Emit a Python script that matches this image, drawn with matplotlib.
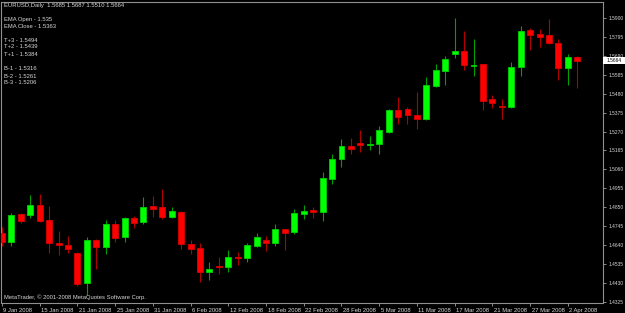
import matplotlib
matplotlib.use("Agg")
import matplotlib.pyplot as plt
import matplotlib.transforms as mtransforms
from matplotlib.patches import Rectangle

plt.rcParams['font.family'] = ['Liberation Sans Narrow', 'Liberation Sans', 'DejaVu Sans']

# EURUSD daily bars, 9 Jan 2008 .. 3 Apr 2008 (62 trading days)
opens = [1.4708, 1.4658, 1.4812, 1.4804, 1.4862, 1.4778, 1.4649, 1.4640, 1.4593, 1.4427,
         1.4669, 1.4630, 1.4754, 1.4686, 1.4788, 1.4766, 1.4856, 1.4849, 1.4793, 1.4823,
         1.4645, 1.4623, 1.4492, 1.4523, 1.4516, 1.4575, 1.4569, 1.4636, 1.4669, 1.4649,
         1.4728, 1.4712, 1.4813, 1.4836, 1.4823, 1.5006, 1.5115, 1.5191, 1.5206, 1.5195,
         1.5199, 1.5269, 1.5389, 1.5396, 1.5361, 1.5339, 1.5524, 1.5607, 1.5700, 1.5717,
         1.5636, 1.5645, 1.5450, 1.5411, 1.5404, 1.5626, 1.5833, 1.5811, 1.5804, 1.5761,
         1.5621, 1.5685]
highs = [1.4739, 1.4816, 1.4816, 1.4917, 1.4923, 1.4856, 1.4717, 1.4690, 1.4601, 1.4682,
         1.4671, 1.4778, 1.4778, 1.4797, 1.4801, 1.4904, 1.4912, 1.4950, 1.4849, 1.4828,
         1.4667, 1.4649, 1.4543, 1.4575, 1.4613, 1.4601, 1.4649, 1.4708, 1.4691, 1.4756,
         1.4730, 1.4838, 1.4860, 1.4849, 1.5045, 1.5143, 1.5228, 1.5235, 1.5276, 1.5246,
         1.5302, 1.5395, 1.5463, 1.5404, 1.5491, 1.5574, 1.5645, 1.5687, 1.5903, 1.5830,
         1.5783, 1.5647, 1.5472, 1.5452, 1.5657, 1.5856, 1.5843, 1.5837, 1.5894, 1.5783,
         1.5700, 1.5687]
lows = [1.4634, 1.4634, 1.4760, 1.4791, 1.4770, 1.4593, 1.4584, 1.4597, 1.4413, 1.4362,
        1.4505, 1.4588, 1.4658, 1.4658, 1.4732, 1.4754, 1.4797, 1.4782, 1.4790, 1.4617,
        1.4588, 1.4436, 1.4445, 1.4478, 1.4491, 1.4528, 1.4543, 1.4628, 1.4606, 1.4636,
        1.4612, 1.4699, 1.4786, 1.4789, 1.4774, 1.4978, 1.5071, 1.5143, 1.5158, 1.5167,
        1.5143, 1.5263, 1.5310, 1.5310, 1.5282, 1.5334, 1.5519, 1.5530, 1.5681, 1.5611,
        1.5578, 1.5389, 1.5402, 1.5339, 1.5403, 1.5580, 1.5722, 1.5739, 1.5758, 1.5557,
        1.5528, 1.5510]
closes = [1.4658, 1.4806, 1.4771, 1.4862, 1.4773, 1.4649, 1.4640, 1.4617, 1.4423, 1.4669,
          1.4627, 1.4754, 1.4678, 1.4788, 1.4763, 1.4852, 1.4841, 1.4797, 1.4827, 1.4645,
          1.4617, 1.4491, 1.4505, 1.4516, 1.4573, 1.4569, 1.4640, 1.4684, 1.4649, 1.4728,
          1.4708, 1.4819, 1.4828, 1.4823, 1.5010, 1.5115, 1.5191, 1.5174, 1.5195, 1.5200,
          1.5276, 1.5389, 1.5352, 1.5363, 1.5339, 1.5528, 1.5610, 1.5672, 1.5717, 1.5637,
          1.5639, 1.5441, 1.5426, 1.5404, 1.5630, 1.5830, 1.5807, 1.5793, 1.5760, 1.5621,
          1.5685, 1.5664]

date_labels = ["9 Jan 2008", "15 Jan 2008", "21 Jan 2008", "25 Jan 2008", "31 Jan 2008",
               "6 Feb 2008", "12 Feb 2008", "18 Feb 2008", "22 Feb 2008", "28 Feb 2008",
               "5 Mar 2008", "11 Mar 2008", "17 Mar 2008", "21 Mar 2008", "27 Mar 2008",
               "2 Apr 2008"]
price_ticks = [1.5900, 1.5795, 1.5690, 1.5585, 1.5480, 1.5375, 1.5270, 1.5165, 1.5060,
               1.4955, 1.4850, 1.4745, 1.4640, 1.4535, 1.4430, 1.4325]

symbol = "EURUSD,Daily"
ema_lines = ["EMA Open - 1.535", "EMA Close - 1.5363"]
top_lines = ["T+3 - 1.5494", "T+2 - 1.5439", "T+1 - 1.5384"]
bottom_lines = ["B-1 - 1.5316", "B-2 - 1.5261", "B-3 - 1.5206"]
last_price = closes[-1]

W, H = 625, 313
fig = plt.figure(figsize=(W / 100, H / 100), dpi=100, facecolor='black')
ax = fig.add_axes([1.5 / W, 10 / H, 601.5 / W, 301.5 / H])
ax.set_facecolor('black')

txt_col = '#d8d8d8'
fs = 4.2
fs_price = 3.5

n = len(opens)
for i in range(n):
    o, h, l, c = opens[i], highs[i], lows[i], closes[i]
    up = c >= o
    wick = '#00a000' if up else '#b00000'
    body = '#00ff00' if up else '#ff0000'
    edge = '#00d000' if up else '#d80000'
    ax.vlines(i, l, h, color=wick, lw=0.8, zorder=2)
    ax.bar(i, abs(c - o), bottom=min(o, c), width=0.63, color=body,
           edgecolor=edge, linewidth=0.6, zorder=3)

ax.set_xlim(-0.05, 63.73)
ax.set_ylim(1.4318, 1.5992)

for s in ax.spines.values():
    s.set_color('#909090')
    s.set_linewidth(0.8)

ax.yaxis.tick_right()
ax.set_yticks(price_ticks)
ax.set_yticklabels([f"{p:.4f}" for p in price_ticks])
ax.tick_params(axis='y', length=2.5, width=0.6, color='#a0a0a0', pad=1.2,
               labelsize=fs_price, labelcolor=txt_col)

ax.set_xticks(range(0, 4 * len(date_labels), 4))
ax.set_xticklabels(date_labels, ha='left')
ax.tick_params(axis='x', length=2.5, width=0.6, color='#a0a0a0', pad=0.8,
               labelsize=fs, labelcolor=txt_col)
shift = mtransforms.ScaledTranslation(1.5 / 100, 0, fig.dpi_scale_trans)
for lab in ax.get_xticklabels():
    lab.set_transform(lab.get_transform() + shift)

# current price marker on the price scale
blend = mtransforms.blended_transform_factory(ax.transAxes, ax.transData)
ax.add_patch(Rectangle((1.0, last_price - 0.0018), 22 / 601.5, 0.0036,
                       transform=blend, facecolor='white', edgecolor='none',
                       clip_on=False, zorder=6))
ax.text(1.0, last_price, f"{last_price:.4f}",
        transform=blend + mtransforms.ScaledTranslation(3.5 / 100, 0, fig.dpi_scale_trans),
        ha='left', va='center', fontsize=fs_price, color='black', clip_on=False, zorder=7)

# info text, top left
def put(ypix, s):
    fig.text(3.5 / W, 1 - ypix / H, s, ha='left', va='center', fontsize=fs, color=txt_col)

put(6, symbol + "  " + " ".join(f"{v:.4f}" for v in (opens[-1], highs[-1], lows[-1], closes[-1])))
for k, s in enumerate(ema_lines):
    put(19 + 7 * k, s)
for k, s in enumerate(top_lines):
    put(40 + 7 * k, s)
for k, s in enumerate(bottom_lines):
    put(69 + 7 * k, s)

put(297, "MetaTrader, \u00a9 2001-2008 MetaQuotes Software Corp.")

fig.savefig("out.png", dpi=100, facecolor='black')
